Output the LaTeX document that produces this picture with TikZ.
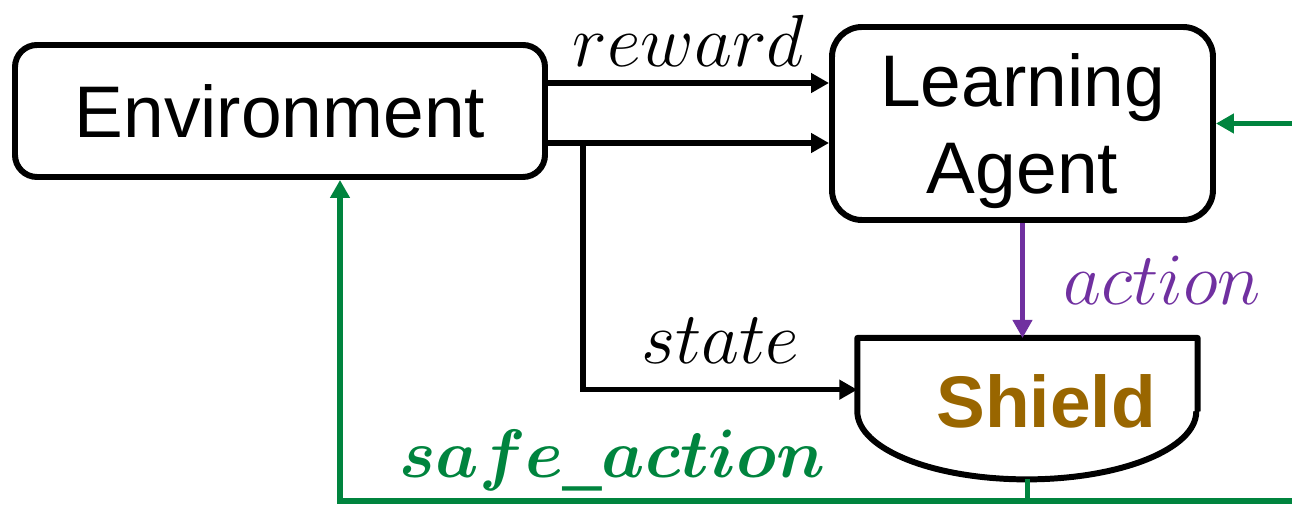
\RequirePackage{fix-cm}
\documentclass[tikz,border=0pt]{standalone}
\usepackage{amsmath}
\usepackage[no-math]{fontspec}
\setmainfont{Liberation Sans}
\usetikzlibrary{arrows.meta, positioning, calc}
\definecolor{safegreen}{RGB}{0,132,62}
\definecolor{actpurple}{RGB}{112,48,160}
\definecolor{shieldbrown}{RGB}{153,102,0}
\tikzset{
    flow/.style={-{Triangle[length=1.8mm, width=1.9mm]}, line width=1.5pt, color=#1},
    flow/.default=black
}

\begin{document}
\begin{tikzpicture}[
    box/.style={draw, line width=1.7pt, rounded corners=#1, align=center,
                font=\fontsize{20.8}{25}\selectfont},
    box/.default=0.25cm,
    sig/.style={font=\fontsize{21}{25}\selectfont},
    shieldlbl/.style={font=\fontsize{20.8}{25}\selectfont\bfseries, text=shieldbrown},
    node distance=0cm and 0cm
]
\useasboundingbox (0,0) rectangle (12.92,5.05);
\clip (0,0) rectangle (12.92,5.05);

% Environment and the learning agent
\node[box=0.22cm, minimum width=5.30cm, minimum height=1.32cm] (env) at (2.80,3.94) {Environment};
\node[box=0.30cm, minimum width=3.81cm, minimum height=1.93cm, text depth=0pt] (agent) at (10.225,3.815) {Learning\\Agent};

% Shield below the agent
\node[minimum width=3.39cm, minimum height=1.40cm, inner sep=0pt,
      below=1.15cm of agent, xshift=0.05cm] (shield) {};
\draw[line width=1.7pt, line join=round]
    ([yshift=0.68cm]shield.south east) -- (shield.north east) -- (shield.north west)
    -- ([yshift=0.68cm]shield.south west)
    arc[start angle=180, end angle=360, x radius=1.695cm, y radius=0.68cm];
\node[shieldlbl] (shieldtxt) at ([xshift=0.185cm, yshift=0.07cm]shield.center) {Shield};

% reward and observation links
\coordinate (rewardout) at ([yshift=0.28cm]env.east);
\coordinate (stateout) at ([yshift=-0.32cm]env.east);
\draw[flow] (rewardout) -- (rewardout -| agent.west)
    node[sig, midway, above=0.02cm] (rewardlbl) {$reward$};
\draw[flow] (stateout) -- (stateout -| agent.west);

% state to the shield
\coordinate (branch) at ([xshift=0.35cm]stateout);
\coordinate (statein) at ([yshift=0.19cm]shield.west);
\draw[flow] (branch) |- (statein)
    node[sig, pos=0.75, above=0.12cm] (statelbl) {$state$};

% proposed action
\draw[flow=actpurple, line width=1.2pt] (agent.south) -- (agent.south |- shield.north)
    node[sig, midway, right=0.27cm] (actionlbl) {$action$};

% safe action back to environment and agent
\coordinate (railL) at (3.40,0.04);
\coordinate (railR) at (13.10,0.04);
\draw[line width=1.5pt, safegreen] (shield.south) -- (shield.south |- railL);
\draw[flow=safegreen] (railR) -- (railL)
    node[sig, pos=0.719, anchor=base, yshift=0.23cm, font=\fontsize{19.5}{24}\selectfont] (safelbl) {$\boldsymbol{safe\_action}$}
    -- (railL |- env.south);
\draw[flow=safegreen] (railR) |- (agent.east);

\end{tikzpicture}
\end{document}
